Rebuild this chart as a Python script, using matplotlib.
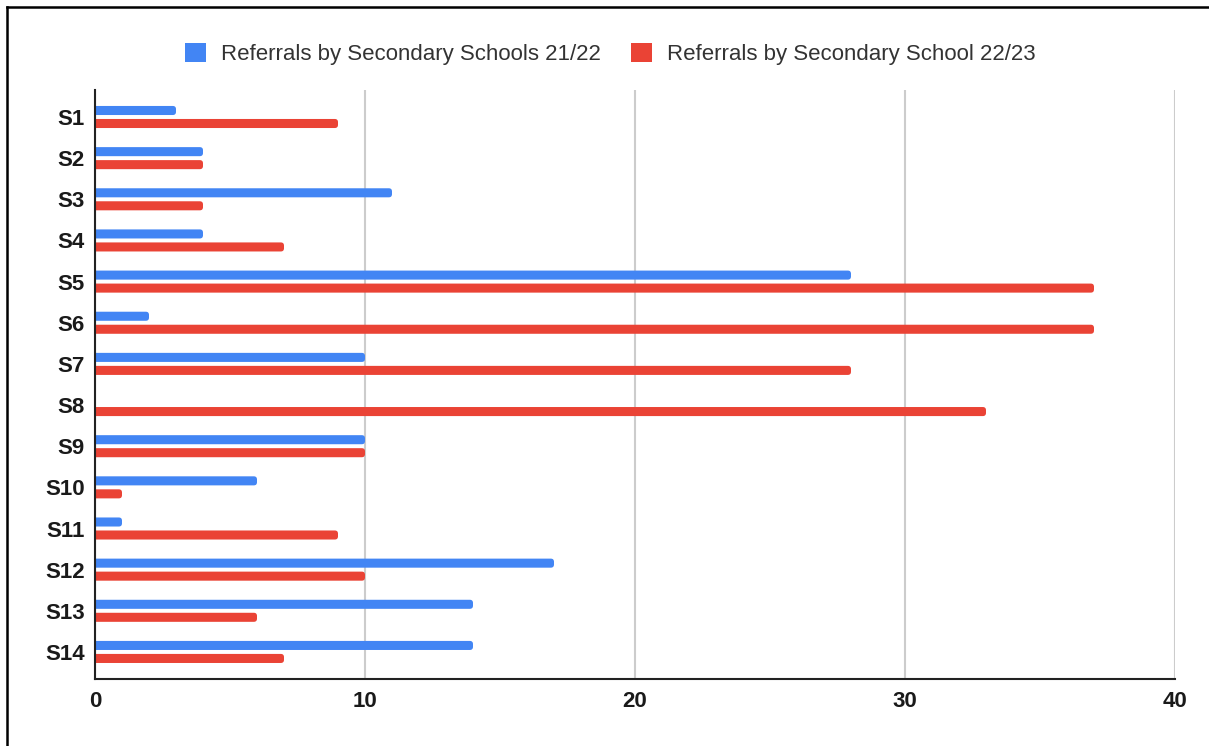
import matplotlib
matplotlib.use("Agg")
import matplotlib.pyplot as plt
from matplotlib.patches import FancyBboxPatch
from matplotlib.lines import Line2D

plt.rcParams['font.family'] = ['Liberation Sans', 'DejaVu Sans']

schools = ["S1", "S2", "S3", "S4", "S5", "S6", "S7", "S8", "S9", "S10", "S11", "S12", "S13", "S14"]
referrals_21_22 = [3, 4, 11, 4, 28, 2, 10, 0, 10, 6, 1, 17, 14, 14]
referrals_22_23 = [9, 4, 4, 7, 37, 37, 28, 33, 10, 1, 9, 10, 6, 7]
series_labels = ["Referrals by Secondary Schools 21/22", "Referrals by Secondary School 22/23"]
x_ticks = [0, 10, 20, 30, 40]

BLUE = "#4285F4"
RED = "#EA4335"

W, H = 1209, 746
fig = plt.figure(figsize=(W / 100, H / 100), dpi=100)
ax = fig.add_axes([95 / W, 1 - 678.7 / H, (1175 - 95) / W, (678.7 - 90) / H])

pos = list(range(len(schools)))
bar_h = 0.22
off = 0.158
bars_a = ax.barh([p - off for p in pos], referrals_21_22, height=bar_h, color=BLUE, zorder=3)
bars_b = ax.barh([p + off for p in pos], referrals_22_23, height=bar_h, color=RED, zorder=3)

ax.set_xlim(0, 40)
ax.set_ylim(13.65, -0.656)

# swap square bars for rounded ones (radius in x data units, aspect corrected)
x_per_px = 40 / 1080
y_per_px = (13.65 + 0.656) / (678.7 - 90)
rad = 3.2 * x_per_px
for bars, col in ((bars_a, BLUE), (bars_b, RED)):
    for b in bars:
        b.set_visible(False)
        w = b.get_width()
        if w <= 0:
            continue
        p = FancyBboxPatch((b.get_x() - rad, b.get_y()), w + rad, b.get_height(),
                           boxstyle=f"round,pad=0,rounding_size={rad}",
                           mutation_aspect=y_per_px / x_per_px,
                           facecolor=col, edgecolor="none", zorder=3, clip_on=True)
        ax.add_patch(p)

ax.set_yticks(pos)
ax.set_yticklabels(schools, fontsize=16, fontweight="bold", color="#1a1a1a")
ax.set_xticks(x_ticks)
ax.set_xticklabels([str(t) for t in x_ticks], fontsize=16, fontweight="bold", color="#1a1a1a")
ax.tick_params(axis="y", length=0, pad=7.5)
ax.tick_params(axis="x", length=0, pad=9)

ax.grid(axis="x", color="#cccccc", linewidth=1.5, zorder=0)
ax.set_axisbelow(True)
for s in ("top", "right"):
    ax.spines[s].set_visible(False)
for s in ("left", "bottom"):
    ax.spines[s].set_color("#222222")
    ax.spines[s].set_linewidth(1.5)
    ax.spines[s].set_zorder(4)

leg = fig.legend([bars_a, bars_b], series_labels, loc="center",
                 bbox_to_anchor=(610.5 / W, 1 - 54 / H), ncol=2, frameon=False,
                 fontsize=16, handlelength=0.95, handleheight=0.95,
                 handletextpad=0.68, columnspacing=1.35, labelcolor="#333333")
for h in leg.legend_handles:
    h.set_visible(True)

# frame edges along the top and left of the canvas
fig.add_artist(Line2D([7 / W, 7 / W], [0, 1 - 7 / H], color="black", linewidth=1.8,
                      transform=fig.transFigure))
fig.add_artist(Line2D([7 / W, 1], [1 - 7 / H, 1 - 7 / H], color="black", linewidth=1.8,
                      transform=fig.transFigure))

fig.savefig("out.png", dpi=100, facecolor="white")
